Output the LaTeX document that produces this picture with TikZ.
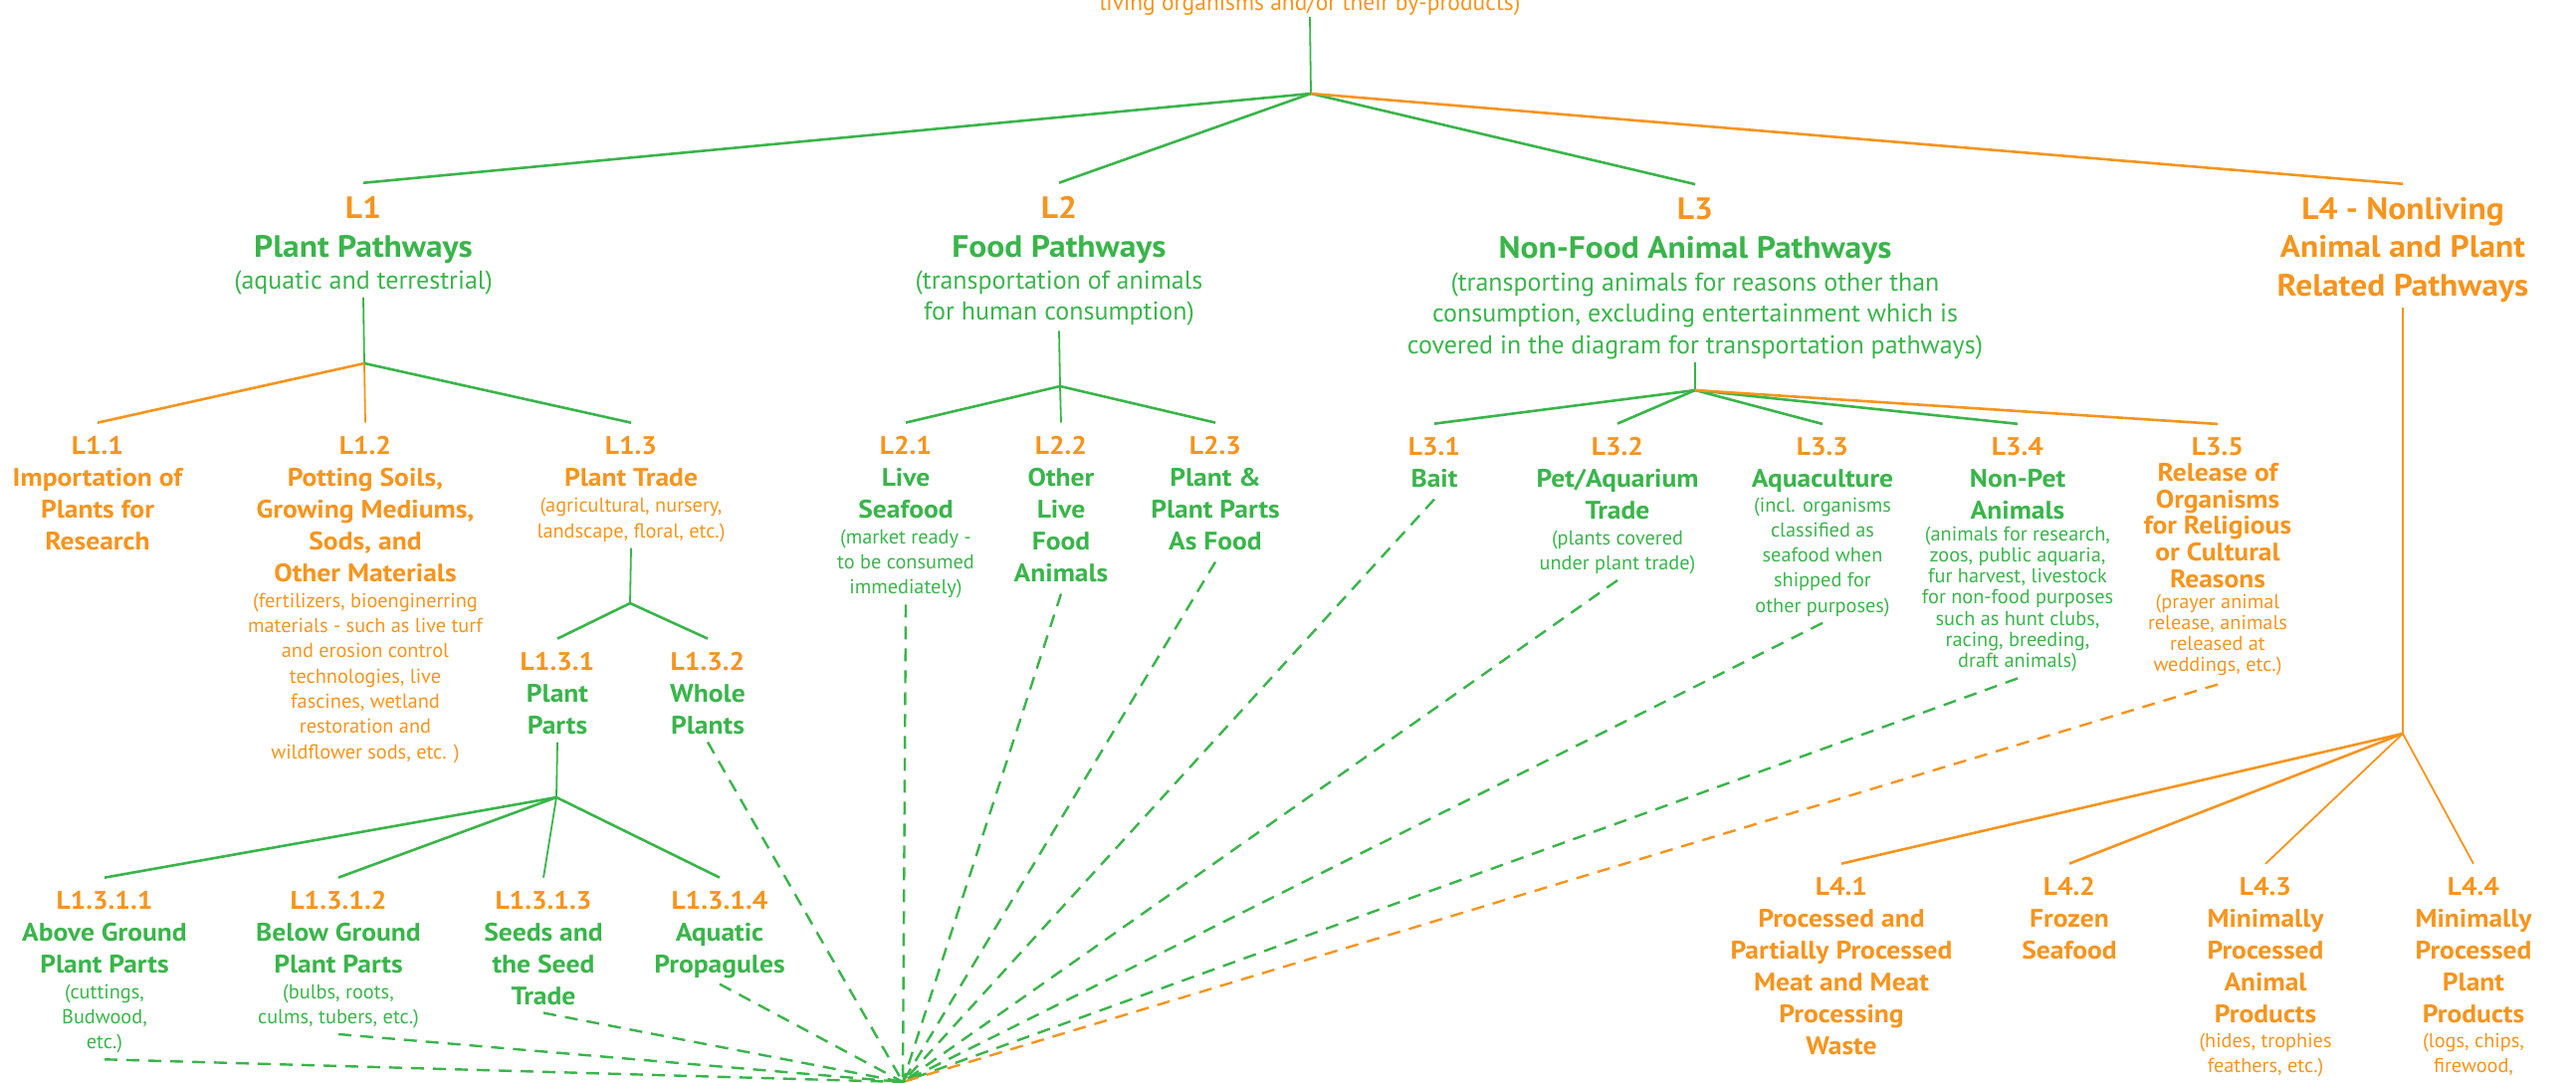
\documentclass[tikz,border=0pt]{standalone}
\usepackage{fontspec}
\setmainfont{PT Sans}[BoldFeatures={FakeStretch=1.08}]
\usetikzlibrary{positioning, calc}

\definecolor{pwgreen}{HTML}{39B54A}
\definecolor{pworange}{HTML}{F7941D}
\newcommand{\cd}[1]{\textcolor{pworange}{#1}}
\lineskiplimit=-100pt
\lineskip=0pt

\begin{document}
\begin{tikzpicture}[
  x=1pt, y=-1pt,
  % nodes sit on the baseline of their last line
  lbl/.style={align=center, anchor=base, inner sep=0pt, text=pwgreen, font=\fontsize{25.5}{32}\selectfont\bfseries},
  toplbl/.style={lbl, font=\fontsize{31}{39}\selectfont\bfseries},
  note/.style={align=center, anchor=base, inner sep=0pt, text=pwgreen, font=\fontsize{20.3}{25.3}\selectfont},
  topnote/.style={note, font=\fontsize{26}{31.5}\selectfont},
  tight/.style={font=\fontsize{25.5}{26.6}\selectfont\bfseries},
  tightnote/.style={font=\fontsize{20.3}{21.3}\selectfont},
  org/.style={text=pworange},
  branch/.style={pwgreen, line width=2.6pt},
  obranch/.style={branch, pworange},
  stem/.style={pwgreen, line width=1.8pt},
  ostem/.style={stem, pworange},
  feed/.style={pwgreen, line width=2.4pt, dash pattern=on 13pt off 9pt},
  ofeed/.style={feed, pworange}
]
\useasboundingbox (0,0) rectangle (2588,1087);
\clip (0,0) rectangle (2588,1087);

% root, only its last line is in view
\node[note, org, font=\fontsize{23.5}{28}\selectfont] (root) at (1316,10.5) {living organisms and/or their by-products)};

% level 1
\node[toplbl] (l1) at (365,258) {\cd{L1}\\Plant Pathways};
\node[topnote] (l1n) at (365,290) {(aquatic and terrestrial)};
\node[toplbl] (l2) at (1064,258) {\cd{L2}\\Food Pathways};
\node[topnote] (l2n) at (1064,321.5) {(transportation of animals\\for human consumption)};
\node[toplbl] (l3) at (1703,259) {\cd{L3}\\Non-Food Animal Pathways};
\node[topnote] (l3n) at (1703,355) {(transporting animals for reasons other than\\consumption, excluding entertainment which is\\covered in the diagram for transportation pathways)};
\node[toplbl, org, font=\fontsize{31}{38.5}\selectfont\bfseries] (l4) at (2414,297) {L4 - Nonliving\\Animal and Plant\\Related Pathways};

% plant pathways
\node[lbl, org] (l11) at (98,552) {L1.1\\Importation of\\Plants for\\Research};
\node[lbl, org] (l12) at (367,584) {L1.2\\Potting Soils,\\Growing Mediums,\\Sods, and\\Other Materials};
\node[note, org] (l12n) at (367,762) {(fertilizers, bioenginerring\\materials - such as live turf\\and erosion control\\technologies, live\\fascines, wetland\\restoration and\\wildflower sods, etc. )};
\node[lbl, org] (l13) at (634,488) {L1.3\\Plant Trade};
\node[note, org] (l13n) at (634,540) {(agricultural, nursery,\\landscape, floral, etc.)};
\node[lbl] (l131) at (560,737) {\cd{L1.3.1}\\Plant\\Parts};
\node[lbl] (l132) at (711,737) {\cd{L1.3.2}\\Whole\\Plants};
\node[lbl] (l1311) at (105,977) {\cd{L1.3.1.1}\\Above Ground\\Plant Parts};
\node[note] (l1311n) at (105,1053.6) {(cuttings,\\Budwood,\\etc.)};
\node[lbl] (l1312) at (340,977) {\cd{L1.3.1.2}\\Below Ground\\Plant Parts};
\node[note] (l1312n) at (340,1028.3) {(bulbs, roots,\\culms, tubers, etc.)};
\node[lbl] (l1313) at (546,1009) {\cd{L1.3.1.3}\\Seeds and\\the Seed\\Trade};
\node[lbl] (l1314) at (723,977) {\cd{L1.3.1.4}\\Aquatic\\Propagules};

% food pathways
\node[lbl] (l21) at (910,520) {\cd{L2.1}\\Live\\Seafood};
\node[note] (l21n) at (910,596.6) {(market ready -\\to be consumed\\immediately)};
\node[lbl] (l22) at (1066,584) {\cd{L2.2}\\Other\\Live\\Food\\Animals};
\node[lbl] (l23) at (1221,552) {\cd{L2.3}\\Plant \&\\Plant Parts\\As Food};

% non-food animal pathways
\node[lbl] (l31) at (1441,489) {\cd{L3.1}\\Bait};
\node[lbl] (l32) at (1625,521) {\cd{L3.2}\\Pet/Aquarium\\Trade};
\node[note] (l32n) at (1625,572.3) {(plants covered\\under plant trade)};
\node[lbl] (l33) at (1831,489) {\cd{L3.3}\\Aquaculture};
\node[note] (l33n) at (1831,615.2) {(incl. organisms\\classified as\\seafood when\\shipped for\\other purposes)};
\node[lbl] (l34) at (2027,521) {\cd{L3.4}\\Non-Pet\\Animals};
\node[note, tightnote] (l34n) at (2027,670.8) {(animals for research,\\zoos, public aquaria,\\fur harvest, livestock\\for non-food purposes\\such as hunt clubs,\\racing, breeding,\\draft animals)};
\node[lbl, org, tight] (l35) at (2228,590) {L3.5\\Release of\\Organisms\\for Religious\\or Cultural\\Reasons};
\node[note, org, tightnote] (l35n) at (2228,674.9) {(prayer animal\\release, animals\\released at\\weddings, etc.)};

% nonliving pathways
\node[lbl, org] (l41) at (1850,1059) {L4.1\\Processed and\\Partially Processed\\Meat and Meat\\Processing\\Waste};
\node[lbl, org] (l42) at (2079,963) {L4.2\\Frozen\\Seafood};
\node[lbl, org] (l43) at (2276,1027) {L4.3\\Minimally\\Processed\\Animal\\Products};
\node[note, org] (l43n) at (2276,1077.3) {(hides, trophies\\feathers, etc.)};
\node[lbl, org] (l44) at (2485,1027) {L4.4\\Minimally\\Processed\\Plant\\Products};
\node[note, org] (l44n) at (2485,1077.3) {(logs, chips,\\firewood,};

% junctions
\coordinate (j0) at (1317,94);
\coordinate (j1) at (366,365);
\coordinate (j13) at (633,606);
\coordinate (j131) at (559,801);
\coordinate (j2) at (1065,388);
\coordinate (j3) at (1703,392);
\coordinate (j4) at (2414,737);
\coordinate (sink) at (907,1087);

% tree
\draw[stem] ([yshift=-1pt]root.south) -- (j0);
\draw[branch] (j0) -- ([yshift=13pt]l1.north);
\draw[branch] (j0) -- ([yshift=13pt]l2.north);
\draw[branch] (j0) -- ([yshift=13pt]l3.north);
\draw[obranch] (j0) -- ([yshift=13pt]l4.north);

\draw[stem] ([yshift=-3pt]l1n.south) -- (j1);
\draw[obranch] (j1) -- ([yshift=13pt]l11.north);
\draw[ostem] (j1) -- ([yshift=13pt]l12.north);
\draw[branch] (j1) -- ([yshift=13pt]l13.north);
\draw[stem] ([yshift=-6pt]l13n.south) -- (j13);
\draw[branch] (j13) -- ([yshift=13pt]l131.north);
\draw[branch] (j13) -- ([yshift=13pt]l132.north);
\draw[stem] ([yshift=-8pt]l131.south) -- (j131);
\draw[branch] (j131) -- ([yshift=13pt]l1311.north);
\draw[branch] (j131) -- ([yshift=13pt]l1312.north);
\draw[stem] (j131) -- ([yshift=13pt]l1313.north);
\draw[branch] (j131) -- ([yshift=13pt]l1314.north);

\draw[stem] ([yshift=-5pt]l2n.south) -- (j2);
\draw[branch] (j2) -- ([yshift=13pt]l21.north);
\draw[stem] (j2) -- ([yshift=13pt]l22.north);
\draw[branch] (j2) -- ([yshift=13pt]l23.north);

\draw[stem] ([yshift=-3pt]l3n.south) -- (j3);
\draw[branch] (j3) -- ([yshift=13pt]l31.north);
\draw[branch] (j3) -- ([yshift=13pt]l32.north);
\draw[branch] (j3) -- ([yshift=13pt]l33.north);
\draw[branch] (j3) -- ([yshift=13pt]l34.north);
\draw[obranch] (j3) -- ([yshift=13pt]l35.north);

\draw[ostem] ([yshift=-5pt]l4.south) -- (j4);
\draw[obranch] (j4) -- ([yshift=13pt]l41.north);
\draw[obranch] (j4) -- ([yshift=13pt]l42.north);
\draw[ostem] (j4) -- ([yshift=13pt]l43.north);
\draw[ostem] (j4) -- ([yshift=13pt]l44.north);

% dashed links into the common sink
\draw[feed] ([yshift=-6pt]l1311n.south) -- (sink);
\draw[feed] ([yshift=-6pt]l1312n.south) -- (sink);
\draw[feed] ([yshift=-8pt]l1313.south) -- (sink);
\draw[feed] ([yshift=-6pt]l1314.south) -- (sink);
\draw[feed] ([yshift=-8pt]l132.south) -- (sink);
\draw[feed] ([yshift=-6pt]l21n.south) -- (sink);
\draw[feed] ([yshift=-12pt]l22.south) -- (sink);
\draw[feed] ([yshift=-12pt]l23.south) -- (sink);
\draw[feed] ([yshift=-12pt]l31.south) -- (sink);
\draw[feed] ([yshift=-6pt]l32n.south) -- (sink);
\draw[feed] ([yshift=-6pt]l33n.south) -- (sink);
\draw[feed] ([yshift=-6pt]l34n.south) -- (sink);
\draw[ofeed] ([yshift=-8pt]l35n.south) -- (sink);
\end{tikzpicture}
\end{document}
